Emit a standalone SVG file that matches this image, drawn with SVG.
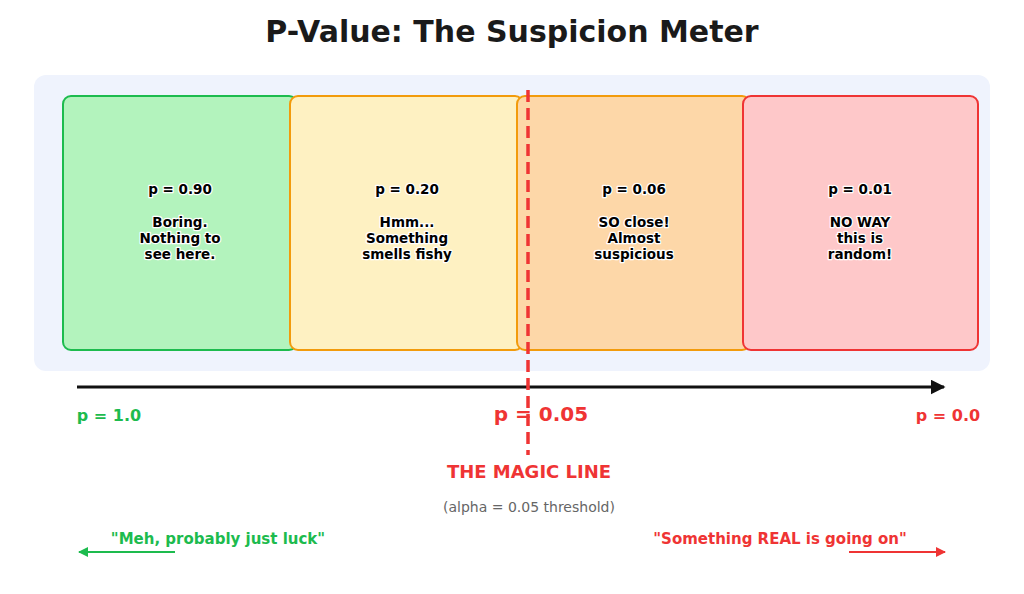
<svg xmlns="http://www.w3.org/2000/svg" width="1024" height="594" viewBox="0 0 1024 594">
<style>
text{font-family:"DejaVu Sans",sans-serif;font-weight:bold;text-anchor:middle}
.bt{font-size:13.5px;fill:#000;stroke:#fff;stroke-width:2.5px;paint-order:stroke;stroke-linejoin:round}
.box{stroke-width:2}
</style>
<defs>
<marker id="ak" viewBox="0 0 10 10" refX="9" refY="5" markerWidth="5" markerHeight="5" orient="auto"><path d="M0,0L10,5L0,10z" fill="#111"/></marker>
<marker id="ag" viewBox="0 0 10 10" refX="9" refY="5" markerWidth="5" markerHeight="5" orient="auto"><path d="M0,0L10,5L0,10z" fill="#1dbb4e"/></marker>
<marker id="ar" viewBox="0 0 10 10" refX="9" refY="5" markerWidth="5" markerHeight="5" orient="auto"><path d="M0,0L10,5L0,10z" fill="#ef3434"/></marker>
</defs>
<rect width="1024" height="594" fill="#fff"/>
<text x="512" y="42" font-size="30" fill="#1a1a1a">P-Value: The Suspicion Meter</text>
<rect x="34" y="75" width="956" height="296" rx="12" fill="#eff3fd"/>
<g id="n1"><rect class="box" x="63" y="96" width="234" height="254" rx="8" fill="#b3f3bd" stroke="#1dbb4e"/>
<text class="bt" x="180" y="194">p = 0.90</text><text class="bt" x="180" y="227">Boring.</text><text class="bt" x="180" y="243">Nothing to</text><text class="bt" x="180" y="259">see here.</text></g>
<g id="n2"><rect class="box" x="290" y="96" width="233" height="254" rx="8" fill="#fef1c2" stroke="#f29b0c"/>
<text class="bt" x="407" y="194">p = 0.20</text><text class="bt" x="407" y="227">Hmm...</text><text class="bt" x="407" y="243">Something</text><text class="bt" x="407" y="259">smells fishy</text></g>
<g id="n3"><rect class="box" x="517" y="96" width="233" height="254" rx="8" fill="#fdd7a8" stroke="#f29b0c"/>
<text class="bt" x="634" y="194">p = 0.06</text><text class="bt" x="634" y="227">SO close!</text><text class="bt" x="634" y="243">Almost</text><text class="bt" x="634" y="259">suspicious</text></g>
<g id="n4"><rect class="box" x="743" y="96" width="235" height="254" rx="8" fill="#fec8c9" stroke="#ef3434"/>
<text class="bt" x="860" y="194">p = 0.01</text><text class="bt" x="860" y="227">NO WAY</text><text class="bt" x="860" y="243">this is</text><text class="bt" x="860" y="259">random!</text></g>
<g id="connectors">
<line x1="77" y1="387" x2="944" y2="387" stroke="#111" stroke-width="3" marker-end="url(#ak)"/>
<line x1="528" y1="90" x2="528" y2="455" stroke="#ef3434" stroke-width="3.5" stroke-dasharray="12,6"/>
<line x1="175" y1="552" x2="79" y2="552" stroke="#1dbb4e" stroke-width="2" marker-end="url(#ag)"/>
<line x1="849" y1="552" x2="945" y2="552" stroke="#ef3434" stroke-width="2" marker-end="url(#ar)"/>
</g>
<text x="109" y="421" font-size="16" fill="#1dbb4e">p = 1.0</text>
<text x="541" y="421" font-size="20" fill="#ef3434">p = 0.05</text>
<text x="948" y="421" font-size="16" fill="#ef3434">p = 0.0</text>
<text x="529" y="478" font-size="18" fill="#ef3434">THE MAGIC LINE</text>
<text x="529" y="512" font-size="14" font-weight="normal" style="font-weight:normal" fill="#666">(alpha = 0.05 threshold)</text>
<text x="218" y="544" font-size="15" fill="#1dbb4e">"Meh, probably just luck"</text>
<text x="780" y="544" font-size="15" fill="#ef3434">"Something REAL is going on"</text>
</svg>
